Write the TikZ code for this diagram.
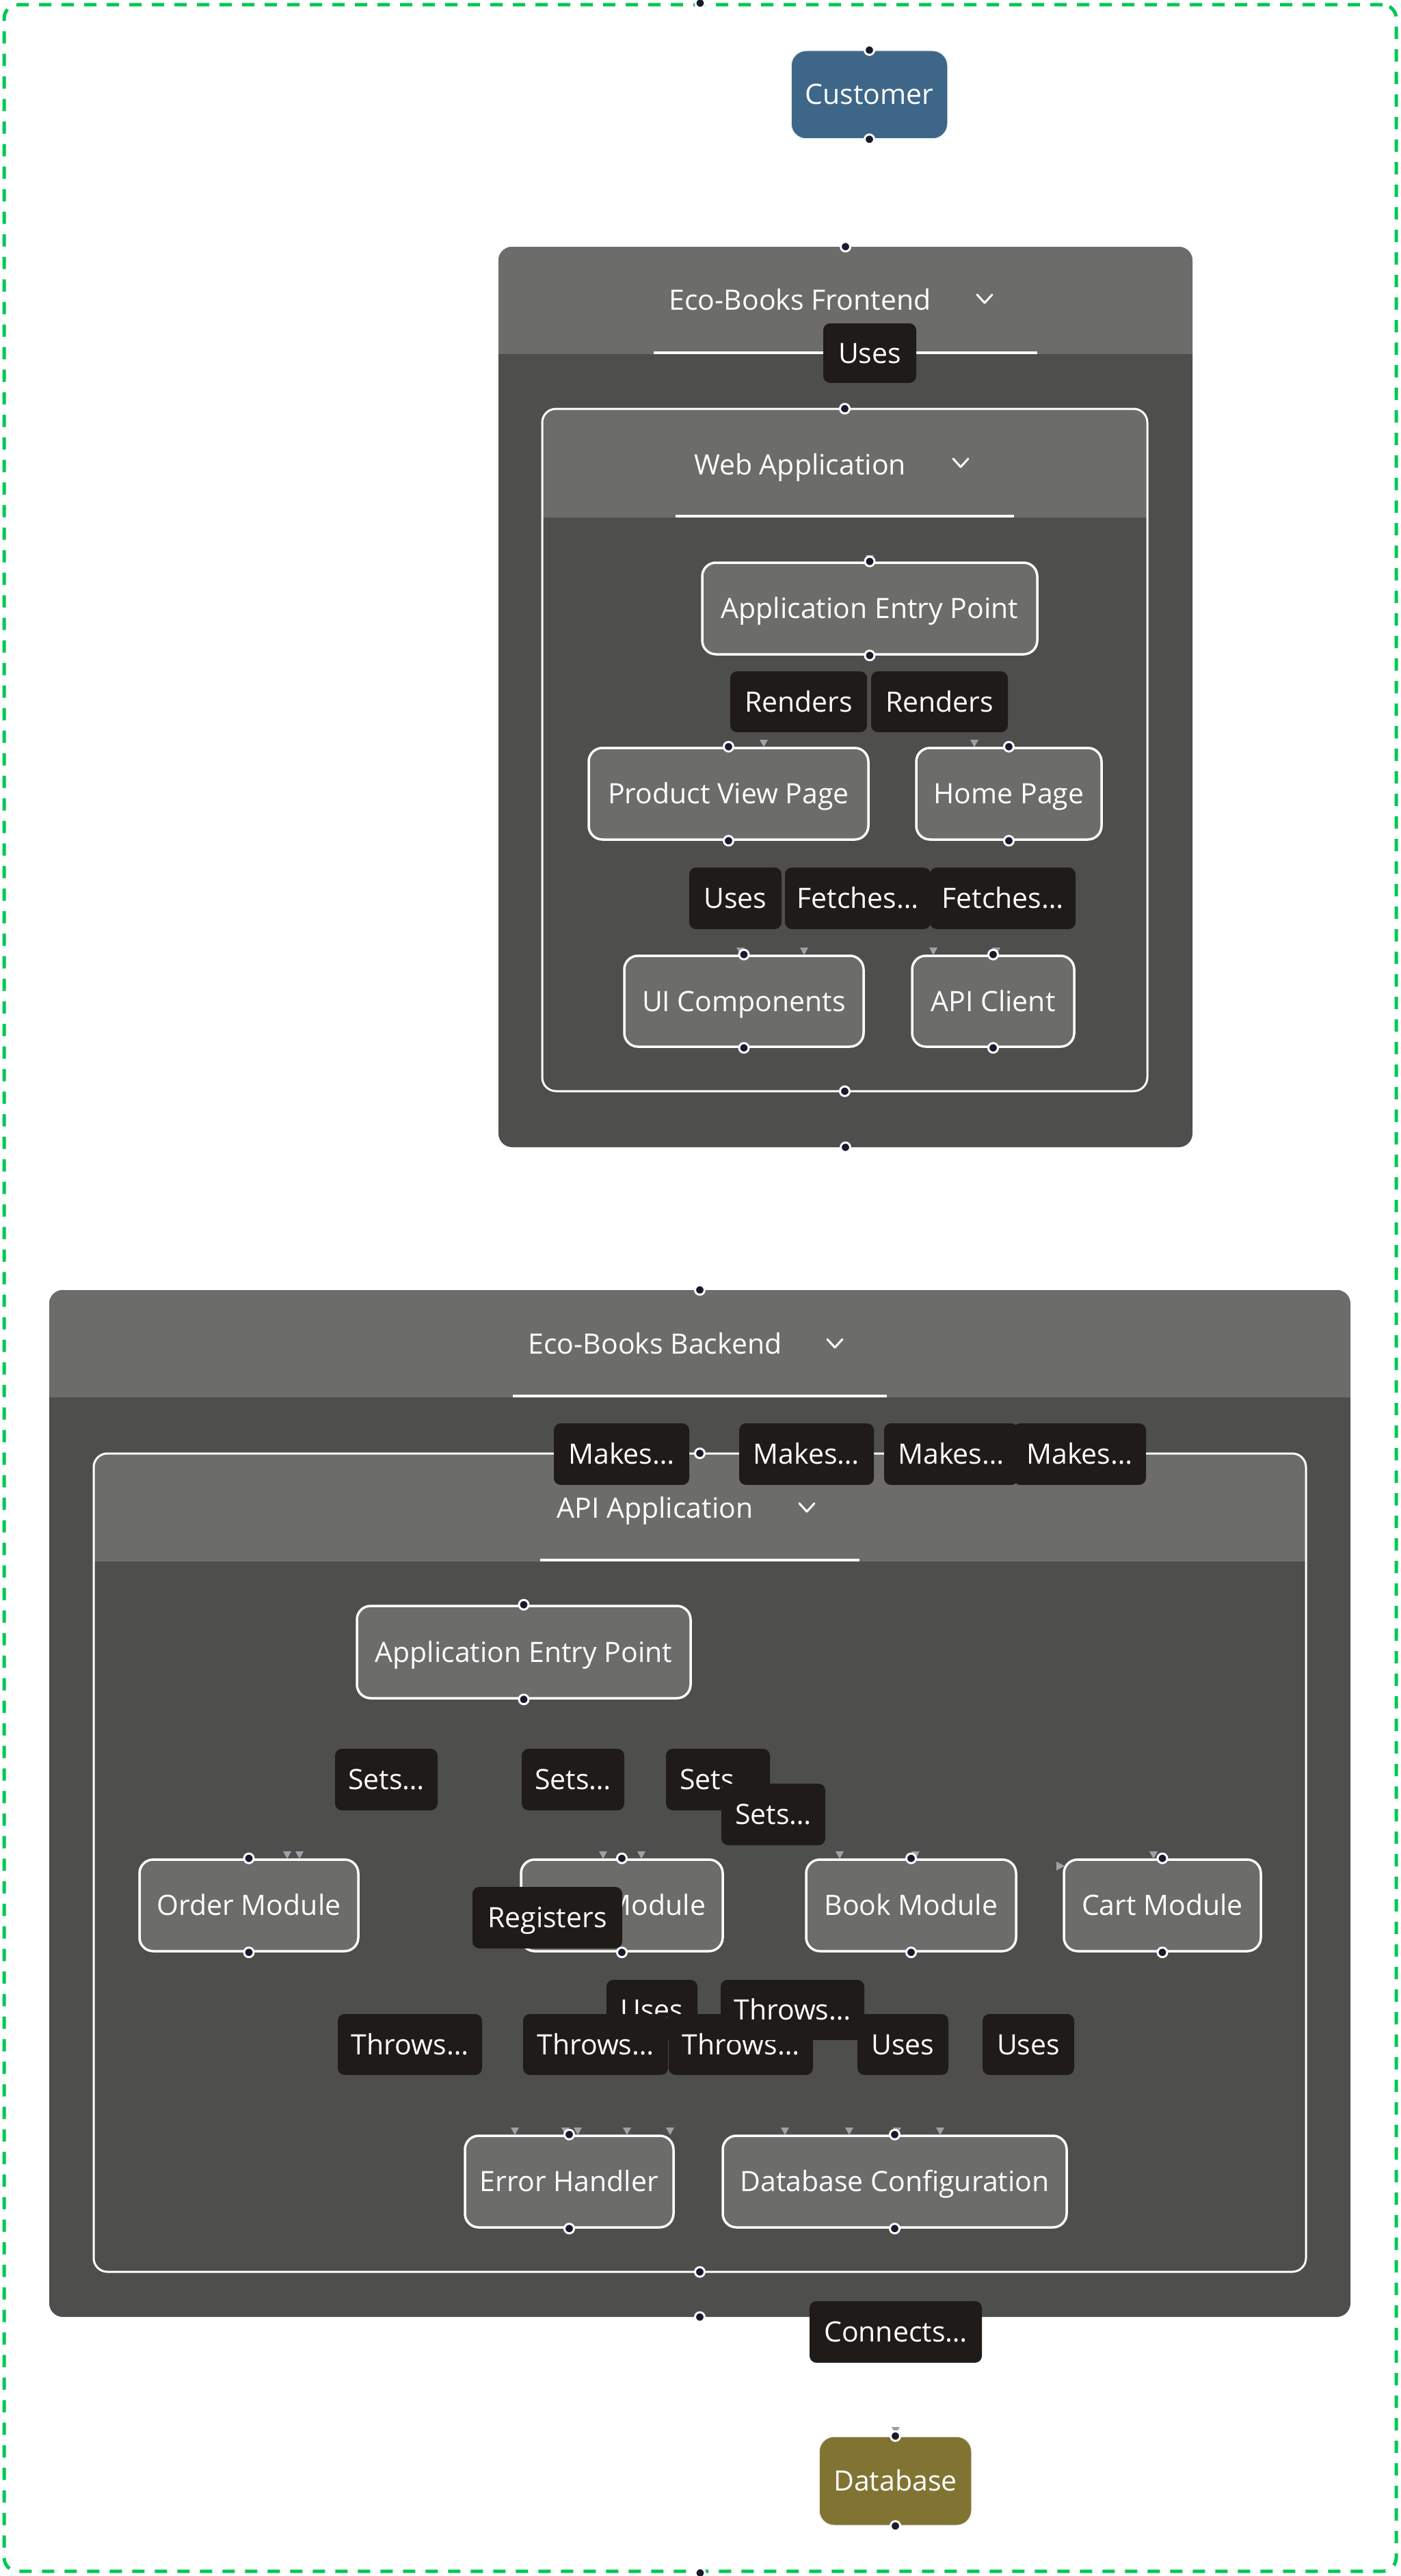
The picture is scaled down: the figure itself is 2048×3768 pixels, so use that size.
\documentclass[tikz,border=0pt]{standalone}
\usepackage{fontspec}
\setmainfont{Open Sans}
\definecolor{framegreen}{RGB}{0,200,83}
\definecolor{hdrgray}{RGB}{108,108,106}
\definecolor{bodygray}{RGB}{78,78,76}
\definecolor{lblblack}{RGB}{30,27,24}
\definecolor{handlenavy}{RGB}{26,26,46}
\definecolor{arrowgray}{RGB}{160,160,168}
\definecolor{custblue}{RGB}{62,102,137}
\definecolor{dbolive}{RGB}{129,116,51}
\newcommand\dfont{\fontsize{41}{49}\selectfont}
\newcommand\dtri[2]{\fill[arrowgray] (#1-6,#2) -- (#1+6,#2) -- (#1,#2+11) -- cycle;}
\newcommand\chev[2]{\draw[white,line width=3pt,line cap=round,line join=round] (#1-11,#2-6) -- (#1,#2+6) -- (#1+11,#2-6);}
\newcommand\hdl[1]{\draw[fill=handlenavy,draw=white,line width=3pt] (#1) circle[radius=7pt];}
\tikzset{
  dtext/.style={text=white, font=\dfont, text height=29pt, text depth=0pt, inner sep=0pt},
  nodebox/.style={dtext, fill=hdrgray, draw=white, line width=3.5pt, rounded corners=20pt},
  lbl/.style={dtext, fill=lblblack, rounded corners=10pt, minimum height=89pt},
  container/.style={fill=bodygray, rounded corners=20pt, inner sep=0pt},
}
\begin{document}
\begin{tikzpicture}[x=1pt,y=-1pt]
\useasboundingbox (0,0) rectangle (2048,3768);
\fill[white] (0,0) rectangle (2048,3768);

% outer frame
\node[draw=framegreen, line width=5pt, dash pattern=on 18pt off 15pt, rounded corners=20pt,
      inner sep=0pt, minimum width=2036pt, minimum height=3754pt] (frame) at (1024,1884) {};

% customer
\node[dtext, fill=custblue, draw={rgb,255:red,240;green,240;blue,240}, line width=1.5pt,
      rounded corners=22pt, minimum width=229pt, minimum height=129pt] (customer) at (1271.5,138.5) {Customer};

% ---------- Frontend ----------
\node[container, minimum width=1015pt, minimum height=1317pt] (frontend) at (1236.5,1019.5) {};
\begin{scope}
\clip[rounded corners=20pt] (729,361) rectangle (1744,1678);
\fill[hdrgray] (729,361) rectangle (1744,518);
\end{scope}
\draw[white,line width=4pt] (956,516) -- (1517,516);
\node[dtext] (frontendTitle) at (1170,439) {Eco-Books Frontend};
\chev{1440}{437}

% Web application
\node[container, minimum width=885pt, minimum height=998pt] (webapp) at (1235.5,1097) {};
\begin{scope}
\clip[rounded corners=20pt] (793,598) rectangle (1678,1596);
\fill[hdrgray] (793,598) rectangle (1678,757);
\end{scope}
\draw[white,line width=3pt,rounded corners=20pt] (793,598) rectangle (1678,1596);
\draw[white,line width=4pt] (988,755) -- (1483,755);
\node[dtext] (webappTitle) at (1170,680) {Web Application};
\chev{1405}{677}

\node[nodebox, minimum width=490pt, minimum height=134pt] (feEntry) at (1272,890) {Application Entry Point};
\node[nodebox, minimum width=409pt, minimum height=134pt] (pvp) at (1065.5,1161) {Product View Page};
\node[nodebox, minimum width=271pt, minimum height=134pt] (home) at (1475.5,1161) {Home Page};
\node[nodebox, minimum width=350pt, minimum height=133pt] (uic) at (1088,1464.5) {UI Components};
\node[nodebox, minimum width=237pt, minimum height=133pt] (apic) at (1452.5,1464.5) {API Client};

\dtri{1272}{812}
\dtri{1117}{1082}\dtri{1425}{1082}
\dtri{1083}{1386}\dtri{1176}{1386}\dtri{1365}{1386}\dtri{1457}{1386}

% ---------- Backend ----------
\node[container, minimum width=1903pt, minimum height=1502pt] (backend) at (1023.5,2638) {};
\begin{scope}
\clip[rounded corners=20pt] (72,1887) rectangle (1975,3389);
\fill[hdrgray] (72,1887) rectangle (1975,2044);
\end{scope}
\draw[white,line width=4pt] (750,2042) -- (1297,2042);
\node[dtext] (backendTitle) at (958,1966) {Eco-Books Backend};
\chev{1221}{1965}

% API application
\node[container, minimum width=1773pt, minimum height=1197pt] (apiapp) at (1023.5,2724.5) {};
\begin{scope}
\clip[rounded corners=20pt] (137,2126) rectangle (1910,3323);
\fill[hdrgray] (137,2126) rectangle (1910,2284);
\end{scope}
\draw[white,line width=3pt,rounded corners=20pt] (137,2126) rectangle (1910,3323);
\draw[white,line width=4pt] (790,2282) -- (1257,2282);
\node[dtext] (apiappTitle) at (958,2206) {API Application};
\chev{1180}{2205}

\node[nodebox, minimum width=488pt, minimum height=135pt] (beEntry) at (766,2416.5) {Application Entry Point};
\node[nodebox, minimum width=320pt, minimum height=134pt] (order) at (364,2787) {Order Module};
\node[nodebox, minimum width=295pt, minimum height=134pt] (umod) at (909.5,2787) {\phantom{User}~Module};
\node[nodebox, minimum width=307pt, minimum height=134pt] (book) at (1332.5,2787) {Book Module};
\node[nodebox, minimum width=288pt, minimum height=134pt] (cart) at (1700,2787) {Cart Module};
\node[nodebox, minimum width=305pt, minimum height=134pt] (errh) at (832.5,3191) {Error Handler};
\node[nodebox, minimum width=503pt, minimum height=134pt] (dbconf) at (1308.5,3191) {Database Configuration};

\dtri{420}{2708}\dtri{438}{2708}\dtri{882}{2708}\dtri{938}{2708}
\dtri{1228}{2708}\dtri{1339}{2708}\dtri{1687}{2708}
\fill[arrowgray] (1545,2723) -- (1545,2736) -- (1557,2729.5) -- cycle;
\dtri{753}{3112}\dtri{827}{3112}\dtri{845}{3112}\dtri{917}{3112}\dtri{980}{3112}
\dtri{1148}{3112}\dtri{1242}{3112}\dtri{1312}{3112}\dtri{1375}{3112}

% database
\node[dtext, fill=dbolive, draw={rgb,255:red,240;green,240;blue,240}, line width=1.5pt,
      rounded corners=22pt, minimum width=223pt, minimum height=130pt] (database) at (1309.5,3629) {Database};
\dtri{1310}{3550}

% ---------- labels ----------
\node[lbl, minimum width=136pt, minimum height=87pt] (lUses0) at (1272,516.5) {Uses};
\node[lbl, minimum width=200pt] (lRend1) at (1168,1026.5) {Renders};
\node[lbl, minimum width=200pt] (lRend2) at (1374,1026.5) {Renders};
\node[lbl, minimum width=135pt, minimum height=90pt] (lUses1) at (1075.5,1314) {Uses};
\node[lbl, minimum width=213pt, minimum height=90pt] (lFet1) at (1254.5,1314) {Fetches…};
\node[lbl, minimum width=213pt, minimum height=90pt] (lFet2) at (1466.5,1314) {Fetches…};

\node[lbl, minimum width=198pt, minimum height=90pt] (lMk1) at (909,2127) {Makes…};
\node[lbl, minimum width=197pt, minimum height=90pt] (lMk2) at (1179.5,2127) {Makes…};
\node[lbl, minimum width=196pt, minimum height=90pt] (lMk3) at (1391,2127) {Makes…};
\node[lbl, minimum width=194pt, minimum height=90pt] (lMk4) at (1579,2127) {Makes…};

\node[lbl, minimum width=150pt, minimum height=90pt] (lSet1) at (565,2603) {Sets…};
\node[lbl, minimum width=150pt, minimum height=90pt] (lSet2) at (838,2603) {Sets…};
\node[lbl, minimum width=152pt, minimum height=90pt] (lSet3) at (1050,2603) {Sets…};
\node[lbl, minimum width=152pt, minimum height=90pt] (lSet4) at (1131,2654) {Sets…};

\node[lbl, minimum width=219pt, minimum height=90pt] (lReg) at (800.5,2805) {Registers};

\node[lbl, minimum width=133pt, minimum height=88pt] (lUses2) at (953.5,2940) {Uses};
\node[lbl, minimum width=211pt] (lThr1) at (599.5,2990.5) {Throws…};
\node[lbl, minimum width=212pt] (lThr2) at (871,2990.5) {Throws…};
\node[lbl, minimum width=211pt] (lThr3) at (1083.5,2990.5) {Throws…};
\node[lbl, minimum width=210pt, minimum height=88pt] (lThr0) at (1159,2940) {Throws…};
\node[lbl, minimum width=133pt] (lUses3) at (1320.5,2990.5) {Uses};
\node[lbl, minimum width=134pt] (lUses4) at (1504,2990.5) {Uses};

\node[lbl, minimum width=252pt, minimum height=90pt] (lConn) at (1310,3411) {Connects…};

% ---------- handles ----------
\hdl{frame.north}\hdl{frame.south}
\hdl{customer.north}\hdl{customer.south}
\hdl{frontend.north}\hdl{frontend.south}
\hdl{webapp.north}\hdl{webapp.south}
\hdl{feEntry.north}\hdl{feEntry.south}
\hdl{pvp.north}\hdl{pvp.south}
\hdl{home.north}\hdl{home.south}
\hdl{uic.north}\hdl{uic.south}
\hdl{apic.north}\hdl{apic.south}
\hdl{backend.north}\hdl{backend.south}
\hdl{apiapp.north}\hdl{apiapp.south}
\hdl{beEntry.north}\hdl{beEntry.south}
\hdl{order.north}\hdl{order.south}
\hdl{umod.north}\hdl{umod.south}
\hdl{book.north}\hdl{book.south}
\hdl{cart.north}\hdl{cart.south}
\hdl{errh.north}\hdl{errh.south}
\hdl{dbconf.north}\hdl{dbconf.south}
\hdl{database.north}\hdl{database.south}
\end{tikzpicture}
\end{document}
